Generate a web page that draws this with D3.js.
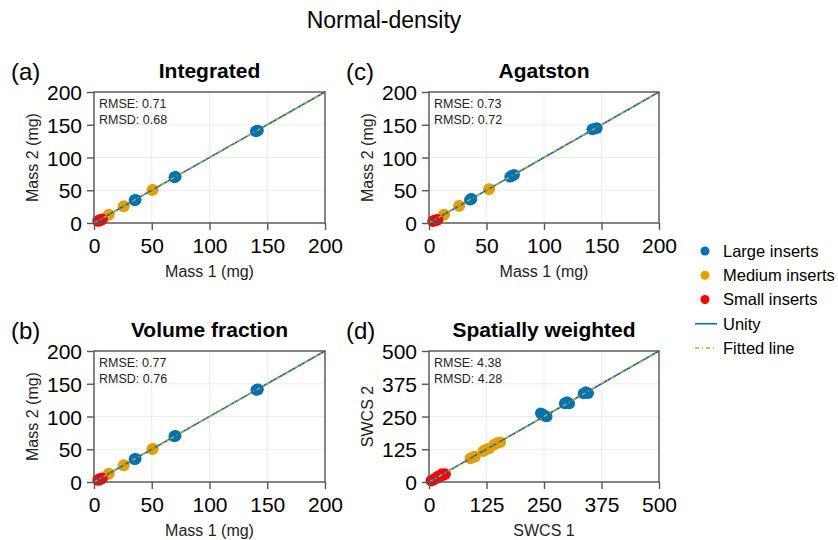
<!DOCTYPE html>
<html><head><meta charset="utf-8">
<script src="https://cdn.jsdelivr.net/npm/d3@7"></script>
<style>body{margin:0;background:#fff}svg{font-family:"Liberation Sans",Arial,sans-serif}</style>
</head><body>
<svg id="c" width="838" height="540"></svg>
<script>
// ---- data ----
const panelLabels = ["(a)", "(c)", "(b)", "(d)"];
const panelTitles = ["Integrated", "Agatston", "Volume fraction", "Spatially weighted"];
const xLabels = ["Mass 1 (mg)", "Mass 1 (mg)", "Mass 1 (mg)", "SWCS 1"];
const yLabels = ["Mass 2 (mg)", "Mass 2 (mg)", "Mass 2 (mg)", "SWCS 2"];
const rmse = ["0.71", "0.73", "0.77", "4.38"];
const rmsd = ["0.68", "0.72", "0.76", "4.28"];
const massTicks = [0, 50, 100, 150, 200];
const swcsTicks = [0, 125, 250, 375, 500];
const axisMax = [200, 200, 200, 500];

const integratedLarge = [[35,35],[35.6,34.8],[36.2,35.6],[69.5,69.6],[70,70.2],[70.8,70.6],[140,140],[141,140.6],[142,141.2]];
const integratedMedium = [[12.4,12.2],[13,12.8],[25.4,25.2],[26,25.8],[50.4,50.2],[51,50.8]];
const integratedSmall = [[3.5,3],[4.5,4],[5.5,4.5],[6.5,5],[7,5.5]];

const agatstonLarge = [[35.5,35.5],[36.5,36.5],[37,37],[70.5,70.5],[72,72],[74,73.5],[142,143],[144,144],[146,145]];
const agatstonMedium = [[12.8,12.5],[13.2,13],[26,26],[26.5,26.3],[52,51.5],[52.5,52]];
const agatstonSmall = [[3.5,2.8],[5,3.8],[6.5,4.5],[7.5,5]];

const volumeLarge = [[35,35],[35.6,34.8],[36.2,35.6],[69.5,69.6],[70,70.2],[70.8,70.6],[140.5,140.5],[141.5,141],[142,141.5]];
const volumeMedium = [[12.4,12.2],[13,12.8],[25.4,25.2],[26,25.8],[50.4,50.2],[51,50.8]];
const volumeSmall = [[3.5,3],[4.5,4],[5.5,4.5],[6.5,5],[7,5.5]];

const swcsLarge = [[243,262],[247,258],[252,252],[256,250],[295,300],[300,305],[305,300],[336,338],[341,343],[346,339]];
const swcsMedium = [[90,90],[95,94],[100,97],[118,118],[125,125],[131,128],[142,143],[148,149],[155,152]];
const swcsSmall = [[5,5],[10,9],[15,14],[20,18],[25,23],[30,26],[35,30],[28,30],[18,20]];

const panelData = [
  [integratedLarge, integratedMedium, integratedSmall],
  [agatstonLarge, agatstonMedium, agatstonSmall],
  [volumeLarge, volumeMedium, volumeSmall],
  [swcsLarge, swcsMedium, swcsSmall]
];
const legendLabels = ["Large inserts", "Medium inserts", "Small inserts", "Unity", "Fitted line"];
const groupColors = ["#0072B2", "#E69F00", "#FF0000"];

// ---- layout ----
const svg = d3.select("#c");
svg.append("text").attr("x", 384).attr("y", 28).attr("text-anchor", "middle")
  .attr("font-size", 23).attr("fill", "#000").text("Normal-density");

const boxes = [
  {x0: 94, x1: 325, y0: 92, y1: 223},
  {x0: 429, x1: 659, y0: 92, y1: 223},
  {x0: 94, x1: 325, y0: 351, y1: 482},
  {x0: 429, x1: 659, y0: 351, y1: 482}
];

boxes.forEach((b, i) => {
  const ticks = axisMax[i] === 500 ? swcsTicks : massTicks;
  const x = d3.scaleLinear().domain([0, axisMax[i]]).range([b.x0, b.x1]);
  const y = d3.scaleLinear().domain([0, axisMax[i]]).range([b.y1, b.y0]);
  const g = svg.append("g");

  // grid
  g.selectAll(".gx").data(ticks).join("line")
    .attr("x1", d => x(d)).attr("x2", d => x(d)).attr("y1", b.y0).attr("y2", b.y1)
    .attr("stroke", "#ebebeb").attr("stroke-width", 1);
  g.selectAll(".gy").data(ticks).join("line")
    .attr("y1", d => y(d)).attr("y2", d => y(d)).attr("x1", b.x0).attr("x2", b.x1)
    .attr("stroke", "#ebebeb").attr("stroke-width", 1);

  // points
  panelData[i].forEach((grp, gi) => {
    g.selectAll(null).data(grp).join("circle")
      .attr("cx", d => x(d[0])).attr("cy", d => y(d[1])).attr("r", 5.8)
      .attr("fill", groupColors[gi]);
  });

  // unity and fitted line
  const line = d3.line().x(d => x(d[0])).y(d => y(d[1]));
  const ends = [[0, 0], [axisMax[i], axisMax[i]]];
  g.append("path").attr("d", line(ends)).attr("stroke", "#0072B2").attr("stroke-width", 1.6).attr("fill", "none");
  g.append("path").attr("d", line(ends)).attr("stroke", "#E69F00").attr("stroke-width", 1.4)
    .attr("stroke-dasharray", "4,3,1,3").attr("fill", "none");

  // spines
  g.append("rect").attr("x", b.x0).attr("y", b.y0).attr("width", b.x1 - b.x0).attr("height", b.y1 - b.y0)
    .attr("fill", "none").attr("stroke", "#555").attr("stroke-width", 1.4);

  // axes
  const ax = g.append("g").attr("transform", `translate(0,${b.y1})`)
    .call(d3.axisBottom(x).tickValues(ticks).tickSize(7).tickPadding(8).tickFormat(d3.format("d")));
  const ay = g.append("g").attr("transform", `translate(${b.x0},0)`)
    .call(d3.axisLeft(y).tickValues(ticks).tickSize(7).tickPadding(5).tickFormat(d3.format("d")));
  [ax, ay].forEach(a => {
    a.select(".domain").remove();
    a.selectAll(".tick line").attr("stroke", "#555").attr("stroke-width", 1.4);
    a.selectAll(".tick text").attr("font-size", 21).attr("fill", "#000").attr("font-family", "Liberation Sans, Arial, sans-serif");
  });
  ay.selectAll(".tick text").attr("dy", "0.36em");

  // labels
  const cx = (b.x0 + b.x1) / 2, cy = (b.y0 + b.y1) / 2;
  g.append("text").attr("x", cx).attr("y", b.y0 - 14).attr("text-anchor", "middle")
    .attr("font-size", 21).attr("font-weight", "bold").attr("fill", "#000").text(panelTitles[i]);
  g.append("text").attr("x", b.x0 - 83).attr("y", b.y0 - 12).attr("font-size", 24).attr("fill", "#000").text(panelLabels[i]);
  g.append("text").attr("x", cx).attr("y", b.y1 + 54).attr("text-anchor", "middle")
    .attr("font-size", 16).attr("fill", "#222").text(xLabels[i]);
  g.append("text").attr("transform", `translate(${b.x0 - 62},${cy}) rotate(-90)`).attr("text-anchor", "middle")
    .attr("dy", "0.36em").attr("font-size", 16).attr("fill", "#222").text(yLabels[i]);
  g.append("text").attr("x", b.x0 + 5).attr("y", b.y0 + 16).attr("font-size", 12.5).attr("fill", "#222").text("RMSE: " + rmse[i]);
  g.append("text").attr("x", b.x0 + 5).attr("y", b.y0 + 32).attr("font-size", 12.5).attr("fill", "#222").text("RMSD: " + rmsd[i]);
});

// legend
const lg = svg.append("g");
const ly = d3.scalePoint().domain(legendLabels).range([251, 348]);
legendLabels.forEach((lab, k) => {
  const yy = ly(lab);
  if (k < 3) {
    lg.append("circle").attr("cx", 705).attr("cy", yy).attr("r", 4.5).attr("fill", groupColors[k]);
  } else if (k === 3) {
    lg.append("line").attr("x1", 695).attr("x2", 717).attr("y1", yy).attr("y2", yy).attr("stroke", "#0072B2").attr("stroke-width", 1.6);
  } else {
    lg.append("line").attr("x1", 695).attr("x2", 717).attr("y1", yy).attr("y2", yy).attr("stroke", "#E69F00").attr("stroke-width", 1.6).attr("stroke-dasharray", "4,3,1,3");
  }
  lg.append("text").attr("x", 723).attr("y", yy).attr("dy", "0.36em").attr("font-size", 16.5).attr("fill", "#000").text(lab);
});
</script>
</body></html>
